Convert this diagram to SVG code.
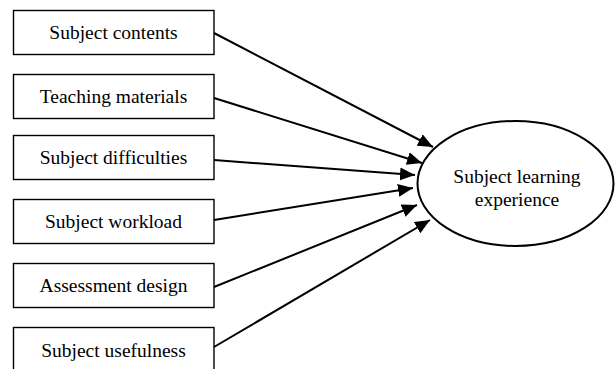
<svg xmlns="http://www.w3.org/2000/svg" width="615" height="369" viewBox="0 0 615 369">
<defs>
<marker id="ah" markerUnits="userSpaceOnUse" markerWidth="16" markerHeight="14" refX="15" refY="6.5" orient="auto">
<path d="M0,0 L15,6.5 L0,13 Z" fill="#000"/>
</marker>
<style>
.box{fill:#fff;stroke:#000;stroke-width:1.4}
.t{font-family:"Liberation Serif","Times New Roman",serif;font-size:19.5px;fill:#000;text-anchor:middle}
.c{stroke:#000;stroke-width:2;fill:none;marker-end:url(#ah)}
</style>
</defs>
<rect width="615" height="369" fill="#fff"/>
<g id="n1"><rect class="box" x="13.5" y="10.5" width="200.5" height="44"/><text class="t" x="113.5" y="39">Subject contents</text></g>
<g id="n2"><rect class="box" x="13.5" y="74.5" width="200.5" height="44"/><text class="t" x="113.5" y="103">Teaching materials</text></g>
<g id="n3"><rect class="box" x="13.5" y="135.5" width="200.5" height="44"/><text class="t" x="113.5" y="164">Subject difficulties</text></g>
<g id="n4"><rect class="box" x="13.5" y="199.5" width="200.5" height="44"/><text class="t" x="113.5" y="228">Subject workload</text></g>
<g id="n5"><rect class="box" x="13.5" y="263.5" width="200.5" height="44"/><text class="t" x="113.5" y="292">Assessment design</text></g>
<g id="n6"><rect class="box" x="13.5" y="327.5" width="200.5" height="44"/><text class="t" x="113.5" y="357">Subject usefulness</text></g>
<g id="n7"><ellipse cx="515.5" cy="183.5" rx="98" ry="62.5" fill="#fff" stroke="#000" stroke-width="2"/><text class="t" x="517" y="183">Subject learning</text><text class="t" x="517" y="206">experience</text></g>
<g id="connectors">
<line class="c" x1="214" y1="33" x2="433" y2="147"/>
<line class="c" x1="214" y1="98" x2="422" y2="163"/>
<line class="c" x1="214" y1="160" x2="415" y2="175"/>
<line class="c" x1="214" y1="220" x2="413" y2="188"/>
<line class="c" x1="214" y1="287" x2="417" y2="205"/>
<line class="c" x1="214" y1="347" x2="430" y2="220"/>
</g>
</svg>
